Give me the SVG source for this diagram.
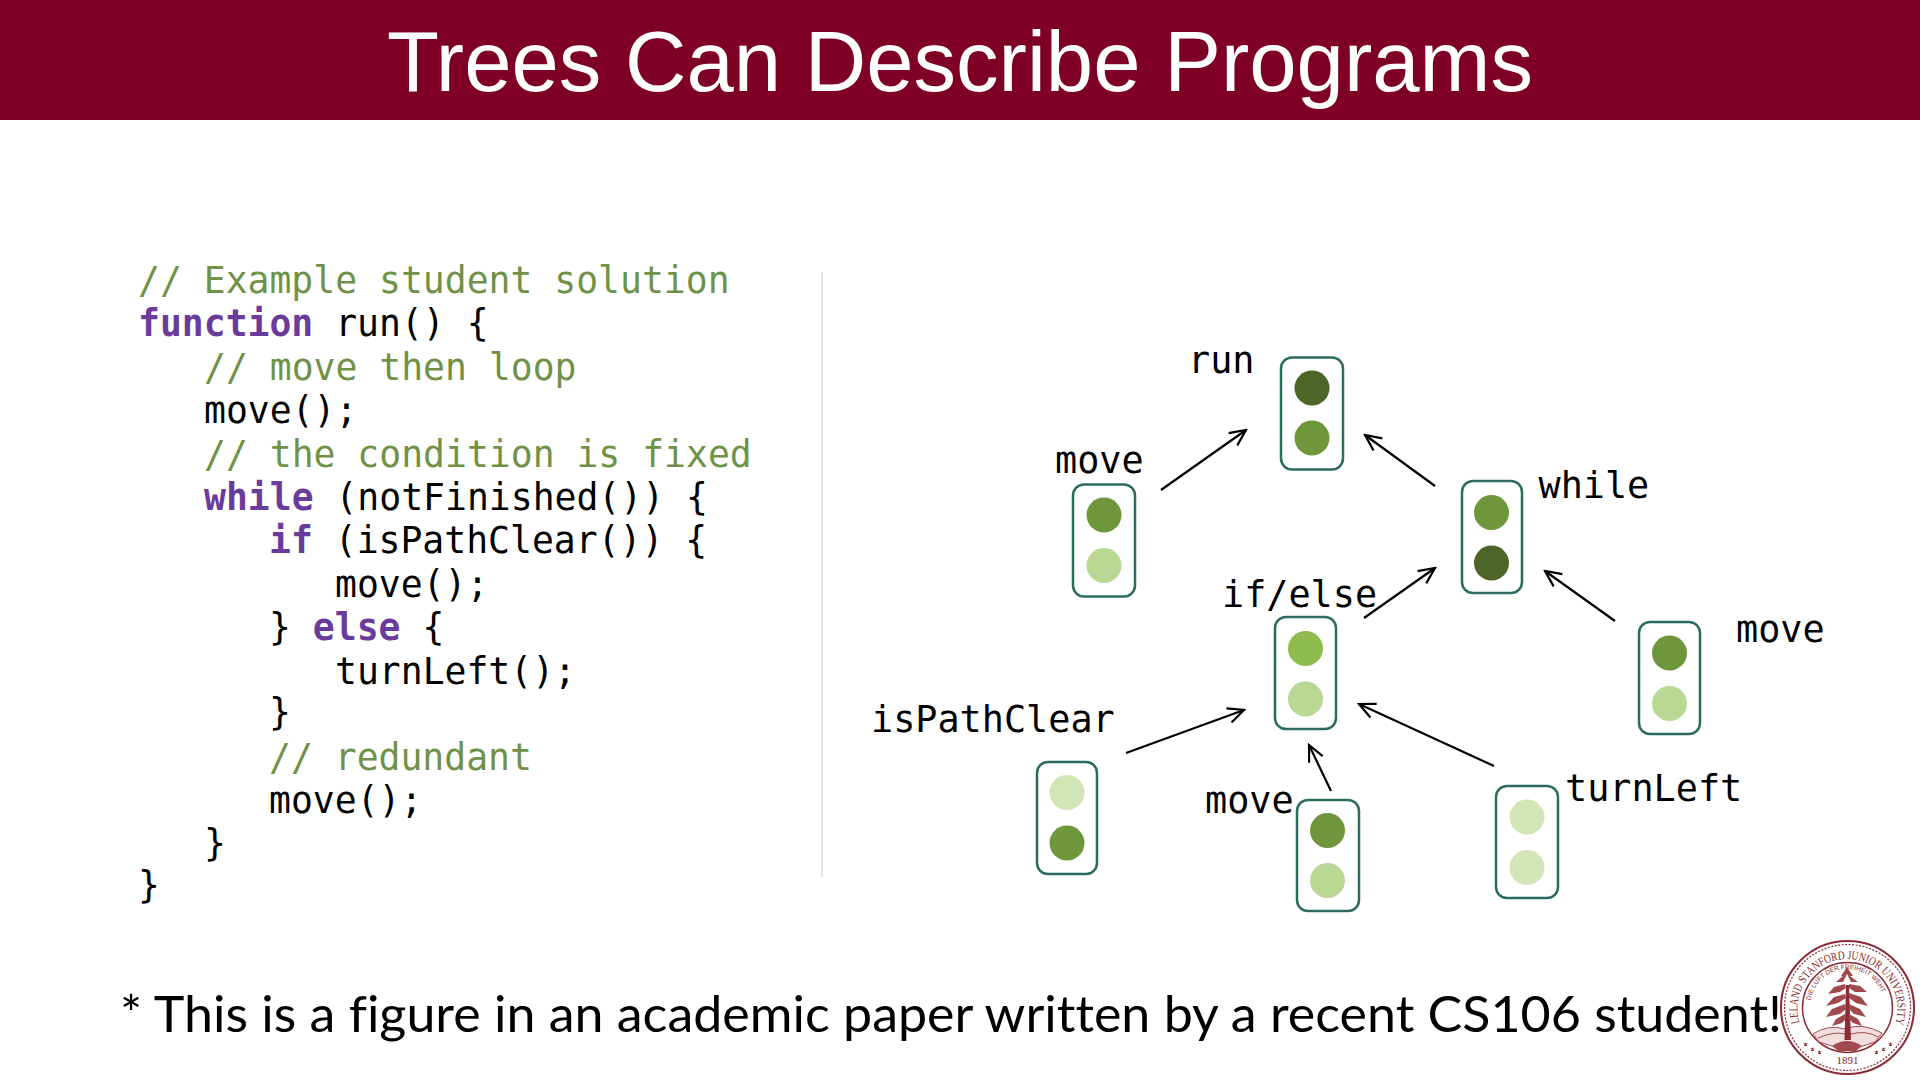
<svg xmlns="http://www.w3.org/2000/svg" xmlns:xlink="http://www.w3.org/1999/xlink" width="1920" height="1080" viewBox="0 0 1920 1080">
<style>
.code{font-family:"DejaVu Sans Mono",monospace;font-size:36.4px;fill:#000}
.lbl{font-family:"DejaVu Sans Mono",monospace;font-size:36.8px;fill:#000}
.c{fill:#6f9148}
.k{fill:#693c9b;font-weight:bold}
.box{fill:#fff;stroke:#2c6b60;stroke-width:2.5}
.edge{fill:none;stroke:#000;stroke-width:2.2;marker-end:url(#arr)}
.d{fill:#4c6627}.m{fill:#6e963b}.b{fill:#8fbc4f}.l{fill:#b9d894}.p{fill:#d3e4b7}
.seal{fill:none;stroke:#8c2a35}
.st{font-family:"Liberation Serif",serif;fill:#8c1f2a}
.tree{fill:#a04a50}
</style>
<defs>
<marker id="arr" viewBox="-17 -9 19 18" refX="0" refY="0" markerWidth="19" markerHeight="18" markerUnits="userSpaceOnUse" orient="auto"><path d="M-16 -7.5L0 0L-16 7.5" fill="none" stroke="#000" stroke-width="2.2"/></marker>
<path id="sealOuter" d="M1799.500 1023A50 50 0 1 1 1895.500 1023"/>
<path id="sealInner" d="M1810.500 1010A36.500 36.500 0 1 1 1884 1002"/>
</defs>
<rect x="0" y="0" width="1920" height="120" fill="#7f0025"/>
<text id="title" x="960" y="91" text-anchor="middle" font-family="Liberation Sans, Arial, sans-serif" font-size="85" fill="#fff" textLength="1146" lengthAdjust="spacingAndGlyphs">Trees Can Describe Programs</text>
<line x1="822" y1="272" x2="822" y2="877" stroke="#ddd" stroke-width="1.5"/>
<g id="code" class="code">
<text x="138" y="293" class="c">// Example student solution</text>
<text x="138" y="336.400"><tspan class="k">function</tspan> run() {</text>
<text x="204" y="379.800" class="c">// move then loop</text>
<text x="204" y="423.200">move();</text>
<text x="204" y="466.600" class="c">// the condition is fixed</text>
<text x="204" y="510"><tspan class="k">while</tspan> (notFinished()) {</text>
<text x="269" y="553.400"><tspan class="k">if</tspan> (isPathClear()) {</text>
<text x="335" y="596.800">move();</text>
<text x="269" y="640.200">} <tspan class="k">else</tspan> {</text>
<text x="335" y="683.600">turnLeft();</text>
<text x="269" y="725">}</text>
<text x="269" y="770.400" class="c">// redundant</text>
<text x="269" y="813">move();</text>
<text x="204" y="856">}</text>
<text x="138" y="898">}</text>
</g>
<g id="connectors">
<line class="edge" x1="1161" y1="490" x2="1246" y2="430"/>
<line class="edge" x1="1435" y1="486" x2="1365" y2="435"/>
<line class="edge" x1="1364" y1="618" x2="1435" y2="568"/>
<line class="edge" x1="1615" y1="621" x2="1545" y2="571"/>
<line class="edge" x1="1126" y1="753" x2="1244" y2="710"/>
<line class="edge" x1="1331" y1="791" x2="1309" y2="745"/>
<line class="edge" x1="1494" y1="766" x2="1359" y2="704"/>
</g>
<g id="node-run"><rect class="box" x="1281" y="357.500" width="62" height="112" rx="11"/><circle class="d" cx="1312" cy="388" r="17.500"/><circle class="m" cx="1312" cy="438" r="17.500"/><text class="lbl" x="1188" y="373">run</text></g>
<g id="node-move-left"><rect class="box" x="1073" y="484.500" width="62" height="112" rx="11"/><circle class="m" cx="1104" cy="515" r="17.500"/><circle class="l" cx="1104" cy="565.500" r="17.500"/><text class="lbl" x="1055" y="473">move</text></g>
<g id="node-while"><rect class="box" x="1462" y="481" width="60" height="112" rx="11"/><circle class="m" cx="1491.500" cy="512.500" r="17.500"/><circle class="d" cx="1491.500" cy="563" r="17.500"/><text class="lbl" x="1538.500" y="498">while</text></g>
<g id="node-ifelse"><rect class="box" x="1275" y="617" width="61" height="112" rx="11"/><circle class="b" cx="1305.500" cy="648.500" r="17.500"/><circle class="l" cx="1305.500" cy="699" r="17.500"/><text class="lbl" x="1222" y="607">if/else</text></g>
<g id="node-move-right"><rect class="box" x="1639" y="622" width="61" height="112" rx="11"/><circle class="m" cx="1669.500" cy="653" r="17.500"/><circle class="l" cx="1669.500" cy="703.500" r="17.500"/><text class="lbl" x="1736" y="642">move</text></g>
<g id="node-ispathclear"><rect class="box" x="1037" y="762" width="60" height="112" rx="11"/><circle class="p" cx="1067" cy="792.500" r="17.500"/><circle class="m" cx="1067" cy="843" r="17.500"/><text class="lbl" x="871" y="732">isPathClear</text></g>
<g id="node-move-bottom"><rect class="box" x="1297" y="800" width="62" height="111" rx="11"/><circle class="m" cx="1327.500" cy="830.500" r="17.500"/><circle class="l" cx="1327.500" cy="880.500" r="17.500"/><text class="lbl" x="1205" y="813">move</text></g>
<g id="node-turnleft"><rect class="box" x="1496" y="786" width="62" height="112" rx="11"/><circle class="p" cx="1527" cy="817" r="17.500"/><circle class="p" cx="1527" cy="867.500" r="17.500"/><text class="lbl" x="1565" y="801">turnLeft</text></g>
<text id="footer" x="120" y="1032" font-family="Lato, Carlito, sans-serif" font-size="50" fill="#000" style="font-variant-ligatures:none" textLength="1662" lengthAdjust="spacingAndGlyphs">* This is a figure in an academic paper written by a recent CS106 student!</text>
<g id="seal">
<circle cx="1847.500" cy="1007.500" r="66.500" fill="#fff" stroke="#8c2a35" stroke-width="2"/>
<circle class="seal" cx="1847.500" cy="1007.500" r="63" stroke-width="1.200" stroke-dasharray="2 1.500"/>
<circle class="seal" cx="1847.500" cy="1007.500" r="45" stroke-width="1.500"/>
<text class="st" font-size="12"><textPath xlink:href="#sealOuter" href="#sealOuter" textLength="186" lengthAdjust="spacingAndGlyphs">LELAND STANFORD JUNIOR UNIVERSITY</textPath></text>
<text class="st" font-size="6.500" style="font-family:'Liberation Sans',sans-serif"><textPath xlink:href="#sealInner" href="#sealInner" startOffset="50%" text-anchor="middle">DIE LUFT DER FREIHEIT WEHT</textPath></text>
<text class="st" x="1847.500" y="1064" font-size="11" text-anchor="middle">1891</text>
<path d="M1804 1046l1.500 -4 1.500 4 -4 -2.500h5zM1811 1051l1.500 -4 1.500 4 -4 -2.500h5zM1818 1054l1.500 -4 1.500 4 -4 -2.500h5zM1875 1054l1.500 -4 1.500 4 -4 -2.500h5zM1882 1051l1.500 -4 1.500 4 -4 -2.500h5zM1889 1046l1.500 -4 1.500 4 -4 -2.500h5z" fill="#8c1f2a"/>
<path d="M1813 1034Q1828 1024 1845 1029Q1862 1022 1882 1033L1875 1042Q1848 1054 1819 1042Z" fill="#f0dede" stroke="#a04a50" stroke-width="1"/>
<path d="M1818 1038Q1835 1031 1845 1034M1851 1034Q1866 1030 1878 1037" fill="none" stroke="#a04a50" stroke-width="1"/>
<path d="M1844.500 1040L1846 985H1849L1851 1040Z" fill="#8c2a35"/>
<path class="tree" d="M1847 967L1853 976L1850 976L1858 982L1851 982L1847 974L1843 982L1836 982L1843 976L1841 976Z"/>
<path class="tree" d="M1845 984L1834 987L1828 994L1840 992L1846 988ZM1849 984L1860 986L1867 992L1855 992L1849 988Z"/>
<path class="tree" d="M1845 994L1834 997L1826 1006L1838 1003L1846 998ZM1849 993L1861 997L1868 1006L1856 1003L1849 998Z"/>
<path class="tree" d="M1845 1004L1832 1009L1826 1017L1840 1014L1846 1009ZM1849 1004L1860 1009L1866 1017L1854 1014L1849 1009Z"/>
<path class="tree" d="M1845 1014L1836 1019L1832 1026L1842 1023L1846 1019ZM1849 1014L1858 1019L1862 1026L1853 1023L1849 1019Z"/>
<path d="M1832 1046Q1847 1036 1862 1046L1856 1051H1838Z" fill="#a04a50"/>
</g>
</svg>
